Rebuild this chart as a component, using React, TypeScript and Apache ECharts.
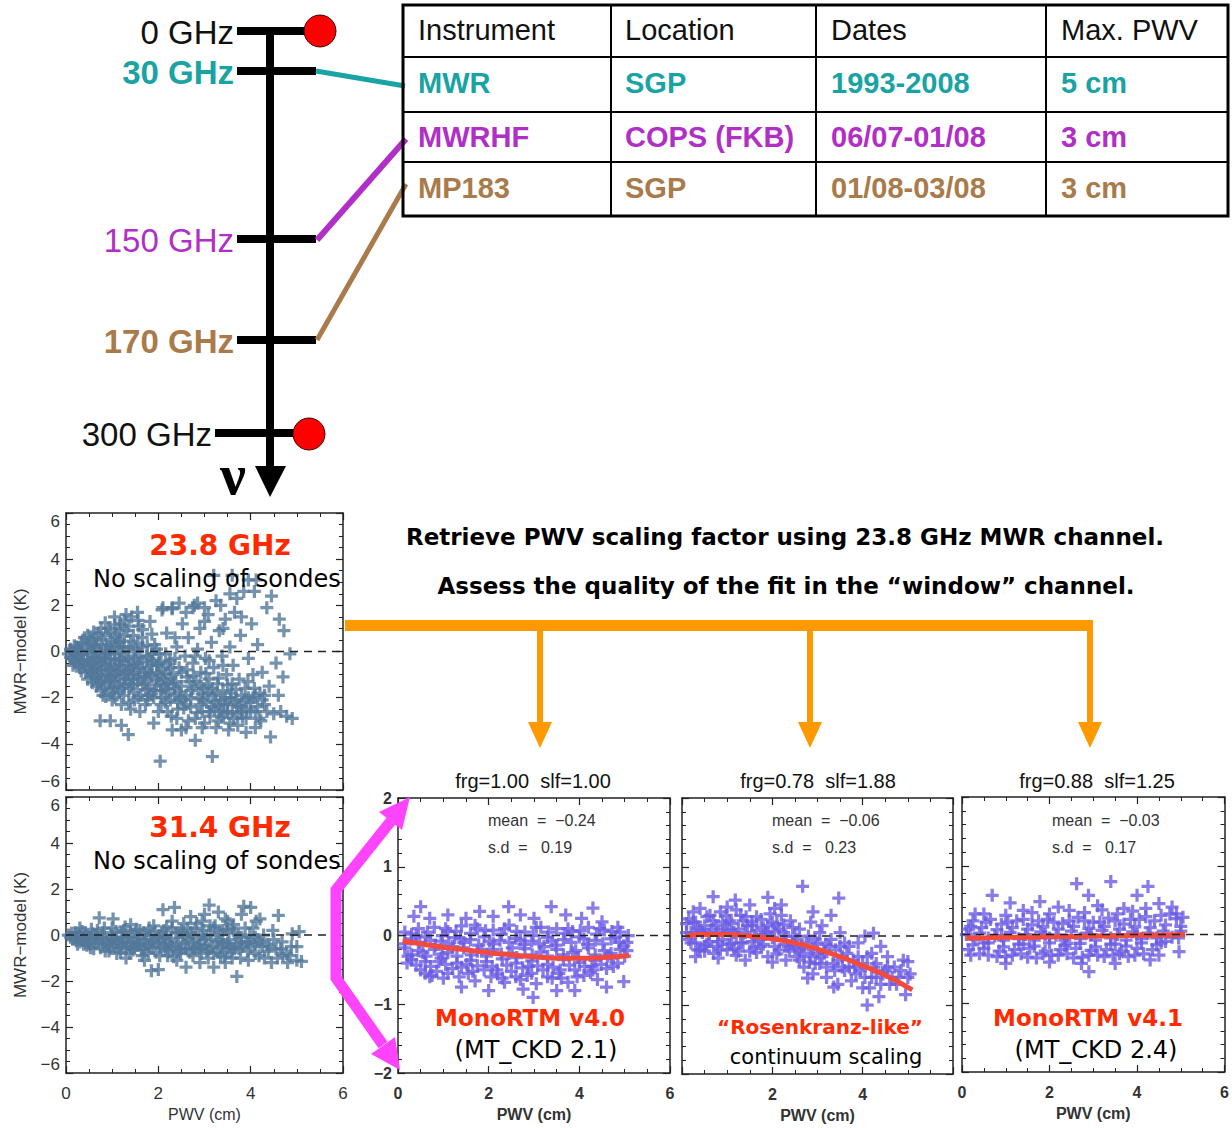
import { useEffect, useRef } from "react";
import * as echarts from "echarts";

// ---------- residuals MWR − model (K) against PWV (cm) ----------
// 23.8 GHz channel, sondes not scaled
const ch23Points: number[][] = [
  [0.05, -0.1], [0.1, 0.1], [0.12, -0.3], [0.2, -0.5], [0.22, 0.2], [0.25, -0.15], [0.3, -0.7], [0.35, 0.35],
  [0.38, -0.35], [0.42, -0.9], [0.45, 0.05], [0.5, -0.6], [0.52, 0.55], [0.55, -1.1], [0.58, -0.25], [0.62, 0.3],
  [0.65, -0.8], [0.68, -1.4], [0.7, 0.8], [0.72, -0.05], [0.75, -0.5], [0.78, -1.1], [0.8, 0.5], [0.82, -1.6],
  [0.85, -0.3], [0.88, 0.15], [0.9, -0.8], [0.92, 1.0], [0.95, -1.3], [0.98, -0.55], [1.0, 0.4], [1.02, -1.8],
  [1.05, -0.1], [1.08, -1.0], [1.1, 0.75], [1.12, -1.5], [1.15, -0.4], [1.18, 1.2], [1.2, -0.8], [1.22, 0.2],
  [1.25, -1.9], [1.28, -1.2], [1.3, -0.2], [1.32, 0.9], [1.35, -0.6], [1.38, -1.6], [1.4, 0.45], [1.42, 1.5],
  [1.45, -1.0], [1.48, -2.1], [1.5, -0.3], [1.52, 0.1], [1.55, -1.4], [1.58, 1.1], [1.6, -0.7], [1.62, -1.9],
  [0.4, 0.6], [0.6, 0.85], [0.85, 1.25], [1.05, 1.5], [1.3, 1.6], [1.55, 1.7], [1.2, -2.3], [1.0, -2.1],
  [0.8, -1.9], [1.4, -2.5], [0.15, -0.6], [0.3, 0.05], [0.6, -0.45], [0.7, -0.95], [0.95, 0.05], [1.15, 0.4],
  [1.65, 0.6], [1.7, -1.1], [1.72, -2.3], [1.75, -0.2], [1.8, -1.6], [1.82, 1.3], [1.85, -0.6], [1.9, -2.0],
  [1.92, 0.3], [1.95, -1.2], [2.0, -2.6], [2.02, -0.1], [2.05, -1.7], [2.08, 1.8], [2.1, -0.8], [2.15, -2.2],
  [2.18, 0.8], [2.2, -1.4], [2.25, -0.4], [2.28, -2.8], [2.3, 1.9], [2.32, -1.0], [2.35, -1.9], [2.4, 0.2],
  [2.42, -2.5], [2.45, -0.7], [2.5, -1.5], [2.52, 1.2], [2.55, -2.1], [2.58, -0.2], [2.6, -3.3], [2.62, -1.1],
  [2.65, 0.6], [2.7, -2.4], [2.72, -1.7], [2.75, -0.5], [2.78, 2.0], [2.8, -2.9], [2.82, -1.3], [2.85, 0.1],
  [2.88, -2.0], [2.9, 1.0], [2.92, -0.9], [2.95, -2.6], [2.98, -1.6], [3.0, -3.1], [3.02, -0.3], [3.05, -2.2],
  [3.08, 1.6], [3.1, -1.2], [3.12, -2.8], [3.15, 0.4], [3.18, -1.9], [3.2, -0.7], [3.22, -2.5], [3.25, 2.2],
  [3.28, -1.4], [3.3, -3.0], [3.32, 0.9], [3.35, -2.1], [3.38, -0.2], [3.4, -1.7], [3.42, -2.7], [3.45, 1.4],
  [3.48, -1.0], [3.5, -2.3], [3.52, -3.4], [3.55, 0.2], [3.58, -1.8], [3.6, -2.6],
  [1.7, -0.9], [1.78, -1.9], [1.88, -0.4], [1.98, -0.9], [2.08, -2.0], [2.12, -1.2], [2.22, -1.8], [2.38, -1.3],
  [2.48, -2.0], [2.6, -1.9], [2.68, -1.3], [2.9, -2.3], [3.05, -1.5], [3.15, -2.4], [3.25, -1.8], [3.35, -2.6],
  [3.45, -2.0], [3.6, -1.4], [3.7, -2.7], [3.8, -1.9], [3.92, -2.5], [4.05, -2.0], [4.15, -2.4], [4.3, -1.9],
  [3.62, -0.6], [3.65, 1.7], [3.7, -2.1], [3.72, -3.2], [3.75, -1.2], [3.78, 0.7], [3.8, -2.4], [3.85, 2.6],
  [3.88, -1.6], [3.9, -2.9], [3.95, -0.3], [4.0, -2.2], [4.02, 1.2], [4.05, -1.0], [4.1, -2.6], [4.12, 3.1],
  [4.15, 0.3], [4.2, -1.8], [4.22, -3.0], [4.25, -0.9], [4.3, -2.3], [4.35, 1.9], [4.4, -1.5], [4.45, 2.4],
  [4.5, -2.7], [4.55, -0.5], [4.6, -1.9], [4.62, 1.4], [4.65, -2.6], [4.7, -1.1], [4.72, 0.9], [4.78, -2.8],
  [4.85, -0.1], [4.9, -2.9],
  [2.1, 1.9], [2.3, 1.85], [2.45, 2.1], [2.75, 1.9], [2.85, 2.1], [3.0, 1.9], [3.2, 3.3], [3.35, 2.0],
  [3.55, 2.5], [3.6, 3.3], [3.7, 2.3], [3.95, 3.1], [4.08, 2.6], [3.4, 1.0], [3.0, 1.3], [2.6, 1.7], [3.8, 1.5],
  [0.74, -3.0], [0.96, -3.0], [1.2, -3.2], [1.35, -3.6], [2.04, -4.75], [3.17, -4.55], [1.6, -2.6], [1.9, -3.1],
  [2.3, -3.4], [2.5, -3.4], [2.8, -3.85], [4.43, -3.7], [3.9, -3.5], [4.1, -3.3],
  // dense core
  [0.1, -0.25], [0.1, 0.05], [0.18, -0.4], [0.18, -0.05], [0.18, 0.25], [0.27, -0.55], [0.27, -0.2], [0.27, 0.15],
  [0.33, -0.85], [0.33, -0.45], [0.33, -0.1], [0.33, 0.4], [0.47, -1.2], [0.47, -0.75], [0.47, -0.35], [0.47, 0.25],
  [0.47, 0.7], [0.57, -1.35], [0.57, -0.95], [0.57, -0.5], [0.57, 0.0], [0.57, 0.45], [0.66, -1.5], [0.66, -1.15],
  [0.66, -0.65], [0.66, -0.3], [0.66, 0.15], [0.66, 0.6], [0.76, -1.7], [0.76, -1.3], [0.76, -0.8], [0.76, -0.2],
  [0.76, 0.3], [0.76, 1.0], [0.86, -1.95], [0.86, -1.45], [0.86, -1.0], [0.86, -0.6], [0.86, 0.0], [0.86, 0.7],
  [0.96, -1.65], [0.96, -1.15], [0.96, -0.75], [0.96, -0.3], [0.96, 0.25], [0.96, 0.85], [1.06, -2.0], [1.06, -1.3],
  [1.06, -0.65], [1.06, -0.35], [1.06, 0.6], [1.06, 1.15], [1.16, -1.75], [1.16, -1.15], [1.16, -0.6], [1.16, 0.0],
  [1.16, 0.5], [1.16, 1.0], [1.26, -1.45], [1.26, -1.0], [1.26, -0.45], [1.26, 0.15], [1.26, 0.65], [1.26, 1.35],
  [1.36, -2.2], [1.36, -1.3], [1.36, -0.85], [1.36, -0.35], [1.36, 0.2], [1.36, 1.1], [1.46, -1.75], [1.46, -1.2],
  [1.46, -0.6], [1.46, 0.0], [1.46, 0.7], [1.56, -2.0], [1.56, -1.1], [1.56, -0.5], [1.56, 0.35], [1.56, 1.35],
  [1.66, -1.45], [1.66, -0.45], [1.66, 0.2], [1.66, 0.95], [1.76, -2.1], [1.76, -1.3], [1.76, -0.75], [1.76, 0.25],
  [1.86, -1.85], [1.86, -1.05], [1.86, -0.1], [1.86, 0.75], [1.96, -1.45], [1.96, -0.6], [1.96, 0.1], [2.06, -2.3],
  [2.06, -1.35], [2.06, -0.45], [2.16, -1.65], [2.16, -0.95], [2.16, -0.1], [2.26, -2.1], [2.26, -1.15], [2.26, -0.7],
  [2.36, -1.6], [2.36, -0.3], [2.36, 0.6],
  [2.45, -1.75], [2.55, -2.45], [2.62, -0.8], [2.7, -2.05], [2.76, -1.05], [2.84, -2.65], [2.9, -1.45], [2.97, -2.1],
  [3.03, -0.95], [3.1, -2.6], [3.17, -1.6], [3.23, -2.15], [3.3, -1.15], [3.37, -2.85], [3.42, -2.3], [3.5, -1.45],
  [3.56, -2.0], [3.63, -2.9], [3.68, -1.65], [3.74, -2.35], [3.82, -2.85], [3.87, -2.1], [3.94, -1.3], [4.0, -2.6],
  [4.08, -1.6], [4.18, -2.9], [4.25, -2.1], [4.35, -2.6], [2.5, -0.9], [2.8, -0.2], [3.1, -0.4], [3.4, -0.6],
  [2.65, -3.0], [2.95, -3.3], [3.25, -3.3], [3.55, -3.1], [2.2, -2.6], [2.4, -2.9],
  [0.52, -0.85], [0.62, -1.0], [0.72, -1.25], [0.82, -0.45], [0.92, -1.05], [1.02, -1.55], [1.12, -0.85], [1.22, -1.6],
  [1.32, -0.95], [1.42, -1.45], [1.52, -0.8], [1.62, -1.2], [1.72, -1.65], [1.82, -0.95], [1.92, -1.7], [2.02, -1.05],
  [2.12, -1.5], [2.22, -0.55], [2.32, -1.4], [2.42, -2.2], [1.0, -1.0], [1.2, -0.3], [1.4, -0.7], [1.6, -0.2],
  [1.8, -0.3], [2.0, -0.5], [0.9, -0.1], [1.1, 0.2], [0.7, -0.4], [0.5, -0.1], [0.4, -0.55], [0.6, 0.2],
  [2.6, -2.3], [2.75, -1.6], [2.95, -1.85], [3.1, -1.8], [3.3, -2.35], [3.5, -2.6], [3.65, -2.2], [3.8, -2.6],
  [3.95, -2.0], [4.1, -1.9],
];

// 31.4 GHz channel, sondes not scaled
const ch31Points: number[][] = [
  [0.05, 0.0], [0.15, -0.15], [0.2, 0.1], [0.3, -0.3], [0.35, 0.15], [0.45, -0.45], [0.5, -0.1], [0.55, 0.25],
  [0.6, -0.6], [0.7, -0.25], [0.72, 0.75], [0.8, 0.1], [0.85, -0.7], [0.9, -0.4], [1.0, 0.3], [1.02, 0.7],
  [1.05, -0.15], [1.1, -0.8], [1.2, -0.45], [1.25, 0.2], [1.3, -1.0], [1.35, -0.1], [1.4, 0.45], [1.45, -0.65],
  [1.55, -0.3], [1.6, 0.2], [1.65, -0.9], [1.7, -1.1], [1.75, 0.0], [1.8, -0.5], [1.85, -1.55], [1.9, 0.4],
  [1.95, -0.75], [2.0, -1.5], [2.02, -0.2], [2.1, 1.1], [2.12, 0.2], [2.2, -0.9], [2.25, -0.4], [2.3, 0.6],
  [2.35, 1.2], [2.4, -1.1], [2.45, 0.1], [2.5, -0.6], [2.55, 0.5], [2.6, -1.4], [2.65, -0.2], [2.7, 0.8],
  [2.75, -0.9], [2.8, 0.3], [2.85, -0.5], [2.9, -1.2], [2.95, 0.0], [3.0, 0.9], [3.05, -0.7], [3.1, 1.3],
  [3.12, 0.4], [3.2, -1.4], [3.25, -0.3], [3.3, 1.0], [3.35, -0.9], [3.4, 0.2], [3.45, -1.2], [3.5, 0.6],
  [3.55, -0.5], [3.6, -1.0], [3.65, 0.1], [3.7, -1.8], [3.75, -0.6], [3.8, 0.9], [3.85, 1.25], [3.9, -0.3],
  [3.95, -1.1], [4.0, 1.2], [4.05, 0.3], [4.1, -0.8], [4.15, -0.2], [4.2, 0.7], [4.3, -1.0], [4.35, -0.4],
  [4.45, -1.2], [4.55, -0.6], [4.6, 0.85], [4.7, -0.9], [4.8, -1.2], [4.9, 0.05], [5.0, -0.5], [5.1, -1.15],
  [5.05, 0.15],
  [0.4, -0.2], [0.65, 0.0], [0.95, -0.35], [1.15, -0.55], [1.5, 0.1], [1.6, -0.4], [1.9, -0.25], [2.05, -0.55],
  [2.15, -0.1], [2.4, -0.5], [2.6, -0.6], [2.75, -0.3], [2.9, -0.4], [3.1, -0.6], [3.3, -0.2], [3.5, -0.6],
  [1.3, -0.6], [0.8, -0.4], [1.8, 0.3], [2.3, 0.3], [2.5, 0.2], [3.2, 0.3], [3.6, 0.3], [4.0, -0.5],
  [4.25, -0.5], [2.95, 0.6], [3.45, 0.7], [1.2, 0.1], [0.3, 0.3], [0.25, -0.4], [1.0, -0.2], [1.4, -0.3],
  [1.7, -0.2], [2.2, -0.3], [2.7, 0.1], [3.0, -0.2], [3.4, -0.4], [3.8, -0.3], [4.2, -0.3], [4.5, -0.2],
  // dense core
  [0.1, -0.1], [0.12, 0.08], [0.22, -0.25], [0.28, 0.05], [0.38, -0.4], [0.42, 0.1], [0.48, -0.25], [0.53, -0.55],
  [0.58, 0.05], [0.63, -0.35], [0.68, 0.2], [0.75, -0.55], [0.78, -0.1], [0.83, 0.3], [0.88, -0.3], [0.93, -0.7],
  [0.98, 0.0], [1.03, -0.45], [1.08, 0.15], [1.13, -0.3], [1.18, -0.75], [1.23, -0.1], [1.28, 0.35], [1.33, -0.4],
  [1.38, -0.8], [1.43, 0.0], [1.48, -0.5], [1.53, 0.25], [1.58, -0.15], [1.63, -0.65], [1.68, 0.1], [1.73, -0.4],
  [1.78, -0.8], [1.83, 0.0], [1.88, -0.55], [1.93, 0.15], [1.98, -0.35], [2.03, -0.9], [2.08, 0.05], [2.13, -0.45],
  [2.18, 0.35], [2.23, -0.7], [2.28, -0.15], [2.33, -0.95], [2.38, 0.1], [2.43, -0.3], [2.48, -0.8], [2.53, 0.0],
  [2.58, -0.4], [2.63, 0.3], [2.68, -0.75], [2.73, 0.0], [2.78, -0.55], [2.83, 0.5], [2.88, -0.15], [2.93, -0.8],
  [2.98, 0.2], [3.03, -0.45], [3.08, -1.0], [3.13, 0.0], [3.18, -0.5], [3.23, 0.4], [3.28, -0.75], [3.33, 0.1],
  [3.38, -0.3], [3.43, -0.95], [3.48, 0.25], [3.53, -0.2], [3.58, -0.75], [3.63, 0.45], [3.68, -0.4], [3.73, 0.0],
  [3.78, -1.0], [3.83, -0.5], [3.88, 0.3], [3.93, -0.7], [3.98, 0.0], [4.08, -0.4], [4.12, 0.6], [4.18, -0.9],
  [4.28, 0.0], [4.38, -0.7], [4.48, 0.2], [4.58, -1.0], [4.68, -0.3], [4.78, -0.8], [4.88, -0.5], [5.0, -1.1],
  [0.2, -0.05], [0.35, -0.15], [0.5, -0.35], [0.65, -0.15], [0.8, -0.2], [0.95, -0.55], [1.1, -0.35], [1.25, -0.25],
  [1.4, -0.55], [1.55, -0.45], [1.7, -0.6], [1.85, -0.35], [2.0, -0.05], [2.15, -0.6], [2.3, -0.55], [2.45, -0.65],
  [2.6, -0.1], [2.75, -0.6], [2.9, -0.6], [3.05, -0.05], [3.2, -0.8], [3.35, -0.55], [3.5, -0.35], [3.65, -0.6],
  [3.8, -0.1], [3.95, -0.35], [4.1, -0.1], [4.4, -0.5], [4.65, -0.6], [4.85, -0.9],
];

// frg = 1.00, slf = 1.00 (MonoRTM v4.0 / MT_CKD 2.1)
const v40Points: number[][] = [
  [0.15, 0.05], [0.45, 0.1], [0.8, 0.12], [1.1, 0.06], [1.4, 0.14], [1.75, 0.1], [2.1, 0.08], [2.45, 0.15],
  [2.8, 0.05], [3.15, 0.12], [3.5, 0.1], [3.85, 0.06], [4.2, 0.12], [4.55, 0.08], [4.9, 0.05],
  [0.3, -0.05], [0.6, -0.02], [0.95, -0.08], [1.25, -0.03], [1.6, -0.06], [1.9, -0.02], [2.25, -0.07], [2.6, -0.04],
  [2.95, -0.08], [3.3, -0.03], [3.65, -0.06], [4.0, -0.02], [4.35, -0.07], [4.7, -0.05], [5.05, -0.1],
  [0.15, -0.18], [0.45, -0.22], [0.8, -0.2], [1.1, -0.25], [1.45, -0.18], [1.75, -0.23], [2.1, -0.2], [2.45, -0.26],
  [2.8, -0.19], [3.15, -0.24], [3.5, -0.2], [3.85, -0.25], [4.2, -0.18], [4.55, -0.22], [4.9, -0.2],
  [0.3, -0.35], [0.6, -0.38], [0.95, -0.33], [1.3, -0.4], [1.6, -0.36], [1.95, -0.38], [2.3, -0.34], [2.6, -0.4],
  [2.95, -0.37], [3.3, -0.42], [3.65, -0.35], [4.0, -0.39], [4.35, -0.36], [4.7, -0.33], [5.0, -0.3],
  [0.5, -0.5], [0.85, -0.52], [1.2, -0.48], [1.55, -0.55], [1.9, -0.5], [2.2, -0.56], [2.5, -0.52], [2.85, -0.58],
  [3.2, -0.5], [3.55, -0.55], [3.9, -0.5], [4.25, -0.54], [4.6, -0.48],
  [1.0, -0.62], [1.7, -0.66], [2.35, -0.68], [2.7, -0.64], [3.05, -0.7], [3.4, -0.62], [3.75, -0.68], [4.4, -0.64],
  [0.5, 0.42], [0.35, 0.28], [0.7, 0.25], [1.1, 0.3], [1.5, 0.25], [1.8, 0.35], [2.1, 0.28], [2.44, 0.42],
  [2.7, 0.3], [3.0, 0.25], [3.38, 0.42], [3.7, 0.3], [4.05, 0.25], [4.3, 0.4], [4.5, 0.2], [4.85, 0.12],
  [2.98, -0.9], [2.76, -0.78], [4.98, -0.67], [3.5, -0.8], [1.4, -0.75], [2.0, -0.8], [3.9, -0.8], [4.6, -0.75],
  [0.7, -0.6], [0.2, -0.4],
  [0.3, 0.02], [0.65, 0.05], [0.98, 0.0], [1.28, 0.06], [1.6, 0.03], [1.93, 0.07], [2.28, 0.02], [2.62, 0.06],
  [2.98, 0.0], [3.32, 0.05], [3.68, 0.03], [4.02, 0.07], [4.38, 0.02], [4.72, 0.06], [5.08, 0.0],
  [0.15, -0.12], [0.48, -0.1], [0.82, -0.14], [1.12, -0.12], [1.45, -0.1], [1.78, -0.14], [2.1, -0.12], [2.45, -0.1],
  [2.78, -0.13], [3.12, -0.12], [3.48, -0.14], [3.82, -0.1], [4.18, -0.13], [4.52, -0.12], [4.88, -0.1],
  [0.3, -0.28], [0.62, -0.3], [0.98, -0.27], [1.3, -0.3], [1.62, -0.28], [1.95, -0.3], [2.28, -0.27], [2.62, -0.32],
  [2.96, -0.28], [3.3, -0.3], [3.65, -0.28], [3.98, -0.32], [4.35, -0.28], [4.7, -0.26], [5.05, -0.22],
  [0.4, -0.43], [0.72, -0.45], [1.05, -0.42], [1.4, -0.46], [1.75, -0.44], [2.08, -0.45], [2.4, -0.43], [2.75, -0.47],
  [3.08, -0.44], [3.42, -0.46], [3.78, -0.43], [4.12, -0.45], [4.48, -0.42], [4.85, -0.4],
  [0.75, -0.58], [1.35, -0.6], [2.05, -0.6], [2.6, -0.6], [3.3, -0.6], [3.95, -0.6], [4.1, -0.58],
  [0.22, -0.3], [0.55, -0.25], [0.9, -0.38], [1.2, -0.16], [1.52, -0.42], [1.85, -0.2], [2.18, -0.5], [2.52, -0.18],
  [2.88, -0.45], [3.22, -0.16], [3.58, -0.5], [3.92, -0.22], [4.28, -0.45], [4.62, -0.3], [4.98, -0.15],
  [0.4, 0.0], [0.72, -0.07], [1.05, 0.1], [1.38, -0.05], [1.7, 0.15], [2.02, -0.08], [2.35, 0.1], [2.7, -0.07],
  [3.05, 0.12], [3.4, -0.08], [3.75, 0.1], [4.1, -0.05], [4.45, 0.1], [4.8, -0.02],
  [0.6, -0.55], [1.1, -0.55], [1.65, -0.52], [2.3, -0.62], [2.95, -0.55], [3.6, -0.62], [4.3, -0.5], [4.75, -0.45],
];

// frg = 0.78, slf = 1.88 ("Rosenkranz-like" continuum scaling)
const rosenPoints: number[][] = [
  [0.1, 0.05], [0.2, -0.1], [0.25, 0.2], [0.4, -0.2], [0.45, 0.05], [0.55, 0.28], [0.6, -0.08], [0.7, -0.25],
  [0.75, 0.15], [0.85, 0.35], [0.9, -0.05], [1.0, -0.2], [1.05, 0.22], [1.15, 0.05], [1.2, -0.28], [1.3, 0.3],
  [1.35, -0.1], [1.45, 0.15], [1.5, -0.22], [1.6, 0.0], [1.65, 0.28], [1.75, -0.15], [1.8, 0.12], [1.9, -0.3],
  [1.95, 0.32], [2.0, -0.02], [2.1, 0.18], [2.15, -0.2], [2.25, 0.05], [2.3, -0.35], [2.4, 0.22], [2.45, -0.1],
  [2.55, -0.3],
  [0.35, 0.1], [0.65, 0.1], [0.95, 0.1], [1.25, 0.1], [1.55, 0.15], [1.85, 0.05], [2.2, 0.3], [2.5, 0.0],
  [0.5, -0.15], [1.1, -0.1], [1.7, -0.05], [2.35, -0.15], [0.15, 0.25],
  [2.6, 0.1], [2.65, -0.15], [2.7, -0.45], [2.8, 0.0], [2.85, -0.3], [2.9, -0.55], [3.0, -0.1], [3.05, -0.4],
  [3.1, 0.15], [3.15, -0.25], [3.2, -0.6], [3.3, -0.05], [3.35, -0.4], [3.4, -0.2], [3.45, -0.7], [3.5, 0.05],
  [3.55, -0.3], [3.6, -0.5], [3.7, -0.15], [3.75, -0.65], [3.8, -0.35],
  [3.9, -0.1], [3.95, -0.5], [4.0, -0.75], [4.05, 0.0], [4.1, -0.3], [4.1, -1.0], [4.2, -0.6], [4.24, 0.04],
  [4.3, -0.4], [4.36, -0.88], [4.4, -0.15], [4.45, -0.55], [4.55, -0.3], [4.6, -0.7], [4.7, -0.45], [4.8, -0.6],
  [4.9, -0.35], [5.0, -0.37], [5.05, -0.55], [4.95, -0.85],
  [2.67, 0.72], [3.47, 0.55], [0.69, 0.57], [1.9, 0.56], [1.18, 0.52], [1.5, 0.45], [2.2, 0.45], [0.4, 0.4],
  [2.9, 0.35], [3.3, 0.3], [1.0, 0.42],
  [2.78, -0.61], [3.36, -0.74], [0.3, -0.3], [0.8, -0.32], [1.4, -0.35], [2.0, -0.38],
  [0.1, 0.18], [0.3, 0.2], [0.5, 0.15], [0.7, 0.22], [0.9, 0.2], [1.1, 0.18], [1.35, 0.22], [1.55, 0.2],
  [1.75, 0.24], [2.0, 0.2], [2.25, 0.16], [2.45, 0.12],
  [0.2, 0.05], [0.4, 0.08], [0.6, 0.02], [0.8, 0.05], [1.0, 0.08], [1.2, 0.02], [1.4, 0.05], [1.65, 0.08],
  [1.85, 0.02], [2.05, 0.07], [2.3, 0.0], [2.55, -0.05], [2.75, -0.1], [2.95, -0.05],
  [0.3, -0.1], [0.55, -0.12], [0.8, -0.08], [1.05, -0.12], [1.3, -0.1], [1.55, -0.08], [1.8, -0.12], [2.05, -0.15],
  [2.3, -0.12], [2.5, -0.18], [2.7, -0.25], [2.9, -0.2], [3.1, -0.3], [3.25, -0.15], [3.45, -0.35], [3.65, -0.25],
  [0.5, -0.22], [0.85, -0.2], [1.25, -0.22], [1.65, -0.24], [2.1, -0.26], [2.6, -0.35], [2.95, -0.4], [3.2, -0.45],
  [3.55, -0.45], [3.85, -0.55], [4.0, -0.4], [4.25, -0.45], [4.5, -0.5], [4.65, -0.6], [4.85, -0.5], [3.7, -0.45],
  [3.9, -0.3], [4.15, -0.75], [4.4, -0.7],
  [0.15, -0.05], [0.35, -0.2], [0.62, 0.3], [0.78, -0.15], [0.98, 0.3], [1.15, -0.18], [1.42, 0.28], [1.6, -0.18],
  [1.9, 0.15], [2.15, 0.1], [2.38, -0.22], [2.6, -0.2], [2.82, -0.38], [3.0, -0.25], [3.18, -0.12], [3.38, -0.5],
  [3.6, -0.1], [3.82, -0.45], [4.05, -0.6], [4.3, -0.6], [4.55, -0.45], [4.75, -0.7], [5.0, -0.6], [0.25, 0.35],
  [1.2, 0.38], [2.05, 0.4], [2.85, 0.2], [3.05, 0.05], [3.5, -0.15], [4.2, -0.25],
];

// frg = 0.88, slf = 1.25 (MonoRTM v4.1 / MT_CKD 2.4)
const v41Points: number[][] = [
  [0.2, 0.12], [0.55, 0.18], [0.9, 0.15], [1.25, 0.2], [1.6, 0.14], [1.95, 0.22], [2.3, 0.16], [2.65, 0.25],
  [3.0, 0.18], [3.35, 0.24], [3.7, 0.15], [4.05, 0.22], [4.4, 0.2], [4.75, 0.3], [5.05, 0.25],
  [0.1, 0.0], [0.4, 0.02], [0.75, -0.02], [1.1, 0.03], [1.45, 0.0], [1.8, 0.04], [2.15, -0.01], [2.5, 0.05],
  [2.85, 0.02], [3.2, 0.06], [3.55, 0.0], [3.9, 0.04], [4.25, 0.02], [4.6, 0.05],
  [0.25, -0.15], [0.6, -0.12], [0.95, -0.18], [1.3, -0.14], [1.65, -0.17], [2.0, -0.12], [2.35, -0.16], [2.7, -0.13],
  [3.05, -0.18], [3.4, -0.14], [3.75, -0.17], [4.1, -0.12], [4.45, -0.15],
  [0.4, -0.28], [0.8, -0.32], [1.15, -0.3], [1.5, -0.33], [1.85, -0.28], [2.2, -0.3], [2.55, -0.34], [2.9, -0.3],
  [3.25, -0.32], [3.6, -0.28], [3.95, -0.3], [4.3, -0.37],
  [2.62, 0.74], [3.4, 0.77], [4.25, 0.7], [0.69, 0.57], [1.1, 0.46], [1.78, 0.48], [2.89, 0.57], [4.0, 0.57],
  [4.9, 0.23], [2.9, -0.54], [2.73, -0.42], [4.96, -0.25], [0.3, 0.3], [1.4, 0.35], [2.2, 0.4], [3.1, 0.42],
  [3.7, 0.38], [4.5, 0.45], [4.65, -0.1], [5.0, 0.05], [1.0, -0.42], [2.0, -0.4], [3.5, -0.42],
  [0.15, 0.08], [0.45, 0.1], [0.8, 0.07], [1.15, 0.1], [1.5, 0.08], [1.85, 0.11], [2.2, 0.08], [2.55, 0.12],
  [2.9, 0.09], [3.25, 0.12], [3.6, 0.08], [3.95, 0.11], [4.3, 0.1], [4.65, 0.14], [5.0, 0.12],
  [0.3, -0.07], [0.6, -0.05], [0.95, -0.08], [1.3, -0.06], [1.65, -0.08], [2.0, -0.05], [2.35, -0.08], [2.7, -0.06],
  [3.05, -0.08], [3.4, -0.05], [3.75, -0.08], [4.1, -0.06], [4.45, -0.05], [4.8, -0.04],
  [0.15, -0.22], [0.5, -0.2], [0.85, -0.24], [1.2, -0.22], [1.55, -0.2], [1.9, -0.24], [2.25, -0.22], [2.6, -0.2],
  [2.95, -0.23], [3.3, -0.22], [3.65, -0.24], [4.0, -0.2], [4.35, -0.22],
  [0.5, 0.3], [1.0, 0.28], [1.6, 0.32], [2.0, 0.3], [2.45, 0.35], [2.8, 0.32], [3.2, 0.36], [3.55, 0.3],
  [3.9, 0.34], [4.2, 0.38], [4.8, 0.4],
  [0.25, 0.2], [0.65, 0.22], [1.05, 0.18], [1.4, 0.22], [1.75, 0.2], [2.1, 0.18], [2.45, 0.2], [2.8, 0.2],
  [3.15, 0.18], [3.5, 0.2], [3.85, 0.22], [4.2, 0.26], [4.55, 0.28], [4.9, 0.3],
  [0.2, -0.3], [0.6, -0.3], [1.0, -0.32], [1.35, -0.28], [1.7, -0.34], [2.05, -0.3], [2.4, -0.28], [2.75, -0.33],
  [3.1, -0.3], [3.45, -0.3], [3.8, -0.32], [4.15, -0.28], [4.5, -0.3],
  [0.5, -0.12], [0.9, -0.02], [1.4, -0.14], [1.9, 0.0], [2.4, -0.13], [2.95, 0.0], [3.5, -0.14], [4.0, 0.0],
  [4.55, -0.12], [4.95, -0.05],
];

// fitted residual curves
const fitPwv = [0.1, 0.5, 1, 1.5, 2, 2.5, 3, 3.5, 4, 4.5, 5.1];
const fitV40 = [-0.08, -0.12, -0.17, -0.21, -0.25, -0.28, -0.31, -0.33, -0.33, -0.32, -0.29];
const fitRosen = [0.0, 0.02, 0.02, 0.0, -0.04, -0.1, -0.19, -0.3, -0.43, -0.57, -0.78];
const fitV41 = [-0.05, -0.05, -0.04, -0.04, -0.03, -0.03, -0.02, -0.02, -0.01, -0.01, 0.0];

const frgValues = [1.0, 0.78, 0.88];
const slfValues = [1.0, 1.88, 1.25];
const meanValues = [-0.24, -0.06, -0.03];
const sdValues = [0.19, 0.23, 0.17];

// instrument table
const tableHeader = ["Instrument", "Location", "Dates", "Max. PWV"];
const instruments = ["MWR", "MWRHF", "MP183"];
const locations = ["SGP", "COPS (FKB)", "SGP"];
const dates = ["1993-2008", "06/07-01/08", "01/08-03/08"];
const maxPwv = ["5 cm", "3 cm", "3 cm"];
const freqLabels = ["0 GHz", "30 GHz", "150 GHz", "170 GHz", "300 GHz"];

// ---------- styling / layout ----------
const INSTR_COLORS = ["#1aa3a3", "#b02fc6", "#a97b4a"];
const FREQ_COLORS = ["#111", INSTR_COLORS[0], INSTR_COLORS[1], INSTR_COLORS[2], "#111"];
const FREQ_WEIGHT = ["normal", "bold", "normal", "bold", "normal"];
const FREQ_Y = [31, 71, 239, 340, 433];
const TABLE_ROW_Y = [30, 83, 137, 188];
const TABLE_COL_X = [418, 625, 831, 1061];

const STEEL = "#52789a";
const VIOLET = "#6a5be4";
const FIT_RED = "#f24b3d";
const ORANGE = "#ff9900";
const MAGENTA = "#ff44ff";
const AXIS = "#222";
const SANS = '"Liberation Sans", Arial, sans-serif';
const HAND = '"DejaVu Sans", sans-serif';
// plus-shaped marker
const CROSS = "path://M4.5,0H7.5V4.5H12V7.5H7.5V12H4.5V7.5H0V4.5H4.5Z";

const minus = (v: number | string) => String(v).replace("-", "\u2212");

const grids = [
  { left: 66, top: 513, width: 277, height: 277 },
  { left: 66, top: 797, width: 277, height: 276 },
  { left: 398, top: 798, width: 272, height: 275 },
  { left: 682, top: 798, width: 271, height: 276 },
  { left: 962, top: 797, width: 268, height: 275 },
];

type AxisOpt = { labels: "none" | "all" | "mid"; name?: string; bold?: boolean; size?: number; vMin?: string; vMax?: string };

function xAxesFor(gi: number, o: AxisOpt) {
  const common = {
    type: "value",
    gridIndex: gi,
    min: 0,
    max: 6,
    interval: 2,
    splitLine: { show: false },
    axisLine: { show: true, onZero: false, lineStyle: { color: AXIS, width: 1.5 } },
    axisTick: { show: true, inside: true, length: 7, lineStyle: { color: AXIS, width: 1.2 } },
    minorTick: { show: true, splitNumber: 4, length: 4, lineStyle: { color: AXIS, width: 1 } },
  };
  const bottom = {
    ...common,
    position: "bottom",
    name: o.name,
    nameLocation: "middle",
    nameGap: 33,
    nameTextStyle: { color: "#333", fontSize: 16, fontFamily: SANS, fontWeight: o.bold ? "bold" : "normal" },
    axisLabel: {
      show: o.labels !== "none",
      margin: 12,
      color: "#333",
      fontSize: o.size ?? 16,
      fontFamily: SANS,
      fontWeight: o.bold ? "bold" : "normal",
      formatter: (v: number) => (o.labels === "mid" && (v === 0 || v === 6) ? "" : String(v)),
    },
  };
  const top = { ...common, position: "top", axisLabel: { show: false } };
  return [bottom, top];
}

function yAxesFor(gi: number, min: number, max: number, interval: number, minorSplit: number, o: AxisOpt) {
  const common = {
    type: "value",
    gridIndex: gi,
    min,
    max,
    interval,
    splitLine: { show: false },
    axisLine: { show: true, onZero: false, lineStyle: { color: AXIS, width: 1.5 } },
    axisTick: { show: true, inside: true, length: 7, lineStyle: { color: AXIS, width: 1.2 } },
    minorTick: { show: true, splitNumber: minorSplit, length: 4, lineStyle: { color: AXIS, width: 1 } },
  };
  const label: any = {
    show: o.labels !== "none",
    margin: 6,
    color: "#333",
    fontSize: o.size ?? 16,
    fontFamily: SANS,
    fontWeight: o.bold ? "bold" : "normal",
    formatter: (v: number) => minus(v),
  };
  if (o.vMin) label.verticalAlignMinLabel = o.vMin;
  if (o.vMax) label.verticalAlignMaxLabel = o.vMax;
  const left = {
    ...common,
    position: "left",
    name: o.name,
    nameLocation: "middle",
    nameGap: 37,
    nameRotate: 90,
    nameTextStyle: { color: "#333", fontSize: 17, fontFamily: SANS },
    axisLabel: label,
  };
  const right = { ...common, position: "right", axisLabel: { show: false } };
  return [left, right];
}

const panelPoints = [ch23Points, ch31Points, v40Points, rosenPoints, v41Points];
const panelColors = [STEEL, STEEL, VIOLET, VIOLET, VIOLET];
const fits = [fitV40, fitRosen, fitV41];

function buildSeries() {
  const series: any[] = [];
  panelPoints.forEach((pts, i) => {
    series.push({
      type: "scatter",
      xAxisIndex: 2 * i,
      yAxisIndex: 2 * i,
      data: pts,
      symbol: CROSS,
      symbolSize: 13,
      itemStyle: { color: panelColors[i] },
      silent: true,
      z: 2,
    });
  });
  fits.forEach((f, k) => {
    const i = k + 2;
    series.push({
      type: "line",
      xAxisIndex: 2 * i,
      yAxisIndex: 2 * i,
      data: fitPwv.map((x, j) => [x, f[j]]),
      smooth: true,
      symbol: "none",
      lineStyle: { color: FIT_RED, width: 5 },
      silent: true,
      z: 3,
    });
  });
  panelPoints.forEach((_, i) => {
    series.push({
      type: "line",
      xAxisIndex: 2 * i,
      yAxisIndex: 2 * i,
      data: [[0, 0], [6, 0]],
      symbol: "none",
      lineStyle: { color: "#222", width: 1.4, type: [8, 6] },
      silent: true,
      z: 4,
    });
  });
  return series;
}

function text(x: number, y: number, str: string, font: string, fill: string, align = "left", z = 50) {
  return { type: "text", x, y, z, silent: true, style: { text: str, font, fill, align, verticalAlign: "middle" } };
}

function buildGraphics() {
  const g: any[] = [];
  // frequency axis
  g.push({ type: "line", shape: { x1: 270, y1: 27, x2: 270, y2: 472 }, style: { stroke: "#000", lineWidth: 8 } });
  g.push({ type: "polygon", shape: { points: [[255, 466], [286, 466], [270, 497]] }, style: { fill: "#000" } });
  const tickX1 = [237, 237, 237, 237, 215];
  const tickX2 = [320, 316, 316, 316, 309];
  FREQ_Y.forEach((y, i) => {
    g.push({ type: "line", shape: { x1: tickX1[i], y1: y, x2: tickX2[i], y2: y }, style: { stroke: "#000", lineWidth: 8 } });
    g.push(text(tickX1[i] - 3, y + 1, freqLabels[i], `${FREQ_WEIGHT[i]} 33px ${SANS}`, FREQ_COLORS[i], "right"));
  });
  g.push({ type: "circle", shape: { cx: 320, cy: 31, r: 16 }, style: { fill: "#ff0000", stroke: "#400", lineWidth: 1 } });
  g.push({ type: "circle", shape: { cx: 309, cy: 434, r: 16 }, style: { fill: "#ff0000", stroke: "#400", lineWidth: 1 } });
  g.push(text(233, 474, "\u03bd", `bold 58px "Liberation Serif", serif`, "#000", "center"));
  // connectors to the table rows
  g.push({ type: "line", shape: { x1: 316, y1: 71, x2: 405, y2: 86 }, style: { stroke: INSTR_COLORS[0], lineWidth: 5 } });
  g.push({ type: "line", shape: { x1: 317, y1: 240, x2: 406, y2: 139 }, style: { stroke: INSTR_COLORS[1], lineWidth: 6 } });
  g.push({ type: "line", shape: { x1: 317, y1: 340, x2: 406, y2: 184 }, style: { stroke: INSTR_COLORS[2], lineWidth: 5 } });

  // table
  g.push({ type: "rect", shape: { x: 403, y: 5, width: 825, height: 211 }, style: { fill: "none", stroke: "#000", lineWidth: 3 } });
  [57, 112, 162].forEach((y) =>
    g.push({ type: "line", shape: { x1: 403, y1: y, x2: 1228, y2: y }, style: { stroke: "#000", lineWidth: 2 } })
  );
  [611, 816, 1046].forEach((x) =>
    g.push({ type: "line", shape: { x1: x, y1: 5, x2: x, y2: 216 }, style: { stroke: "#000", lineWidth: 2 } })
  );
  tableHeader.forEach((h, c) => g.push(text(TABLE_COL_X[c], TABLE_ROW_Y[0], h, `29px ${SANS}`, "#111")));
  const cols = [instruments, locations, dates, maxPwv];
  instruments.forEach((_, r) => {
    cols.forEach((col, c) =>
      g.push(text(TABLE_COL_X[c], TABLE_ROW_Y[r + 1], col[r], `bold 29px ${SANS}`, INSTR_COLORS[r]))
    );
  });

  // instructions
  g.push(text(785, 537, "Retrieve PWV scaling factor using 23.8 GHz MWR channel.", `bold 23px ${HAND}`, "#000", "center"));
  g.push(text(786, 586, "Assess the quality of the fit in the \u201cwindow\u201d channel.", `bold 23px ${HAND}`, "#000", "center"));

  // orange distribution arrows
  g.push({ type: "rect", shape: { x: 345, y: 620, width: 748, height: 11 }, style: { fill: ORANGE } });
  [540, 810, 1090].forEach((x) => {
    g.push({ type: "rect", shape: { x: x - 3, y: 625, width: 6, height: 100 }, style: { fill: ORANGE } });
    g.push({ type: "polygon", shape: { points: [[x - 12, 722], [x + 12, 722], [x, 748]] }, style: { fill: ORANGE } });
  });

  // magenta arrows from the 31.4 GHz panel to the fits
  g.push({
    type: "polyline",
    z: 60,
    shape: { points: [[391, 821], [336, 890], [336, 978], [383, 1045]] },
    style: { stroke: MAGENTA, lineWidth: 11, fill: "none", lineJoin: "miter" },
  });
  g.push({ type: "polygon", z: 60, shape: { points: [[410, 797], [402, 830], [379, 812]] }, style: { fill: MAGENTA } });
  g.push({ type: "polygon", z: 60, shape: { points: [[400, 1070], [371, 1054], [395, 1037]] }, style: { fill: MAGENTA } });

  // left panel annotations
  g.push(text(220, 545, "23.8 GHz", `bold 28px ${HAND}`, "#ff2a00", "center"));
  g.push(text(93, 579, "No scaling of sondes", `24px ${HAND}`, "#000"));
  g.push(text(220, 827, "31.4 GHz", `bold 28px ${HAND}`, "#ff2a00", "center"));
  g.push(text(93, 861, "No scaling of sondes", `24px ${HAND}`, "#000"));

  // bottom panel titles & stats
  const titleX = [533, 818, 1097];
  const statX = [488, 772, 1052];
  frgValues.forEach((frg, k) => {
    g.push(text(titleX[k], 781, `frg=${frg.toFixed(2)}  slf=${slfValues[k].toFixed(2)}`, `20px ${SANS}`, "#111", "center"));
    g.push(text(statX[k], 820, `mean  =  ${minus(meanValues[k].toFixed(2))}`, `16px ${SANS}`, "#333"));
    g.push(text(statX[k], 847, `s.d  =   ${sdValues[k].toFixed(2)}`, `16px ${SANS}`, "#333"));
  });
  g.push(text(530, 1018, "MonoRTM v4.0", `bold 23px ${HAND}`, "#ff2a00", "center"));
  g.push(text(536, 1050, "(MT_CKD 2.1)", `24px ${HAND}`, "#000", "center"));
  g.push(text(820, 1027, "\u201cRosenkranz-like\u201d", `bold 20px ${HAND}`, "#ff2a00", "center"));
  g.push(text(826, 1057, "continuum scaling", `21px ${HAND}`, "#000", "center"));
  g.push(text(1088, 1018, "MonoRTM v4.1", `bold 23px ${HAND}`, "#ff2a00", "center"));
  g.push(text(1096, 1050, "(MT_CKD 2.4)", `24px ${HAND}`, "#000", "center"));
  return g;
}

function buildOption() {
  const name = "MWR\u2212model (K)";
  const xAxis = [
    ...xAxesFor(0, { labels: "none" }),
    ...xAxesFor(1, { labels: "all", name: "PWV (cm)", size: 17 }),
    ...xAxesFor(2, { labels: "all", name: "PWV (cm)", bold: true }),
    ...xAxesFor(3, { labels: "mid", name: "PWV (cm)", bold: true }),
    ...xAxesFor(4, { labels: "all", name: "PWV (cm)", bold: true }),
  ];
  const yAxis = [
    ...yAxesFor(0, -6, 6, 2, 4, { labels: "all", name, size: 17, vMin: "bottom", vMax: "top" }),
    ...yAxesFor(1, -6, 6, 2, 4, { labels: "all", name, size: 17, vMin: "bottom", vMax: "top" }),
    ...yAxesFor(2, -2, 2, 1, 5, { labels: "all", bold: true }),
    ...yAxesFor(3, -2, 2, 1, 5, { labels: "none" }),
    ...yAxesFor(4, -2, 2, 1, 5, { labels: "none" }),
  ];
  return {
    animation: false,
    backgroundColor: "#fff",
    grid: grids,
    xAxis,
    yAxis,
    series: buildSeries(),
    graphic: buildGraphics(),
  };
}

export default function App() {
  const ref = useRef<HTMLDivElement>(null);
  useEffect(() => {
    document.body.style.margin = "0";
    const chart = echarts.init(ref.current!, null, { renderer: "svg" });
    chart.setOption(buildOption() as any);
    return () => chart.dispose();
  }, []);
  return <div ref={ref} style={{ width: 1232, height: 1128 }} />;
}
